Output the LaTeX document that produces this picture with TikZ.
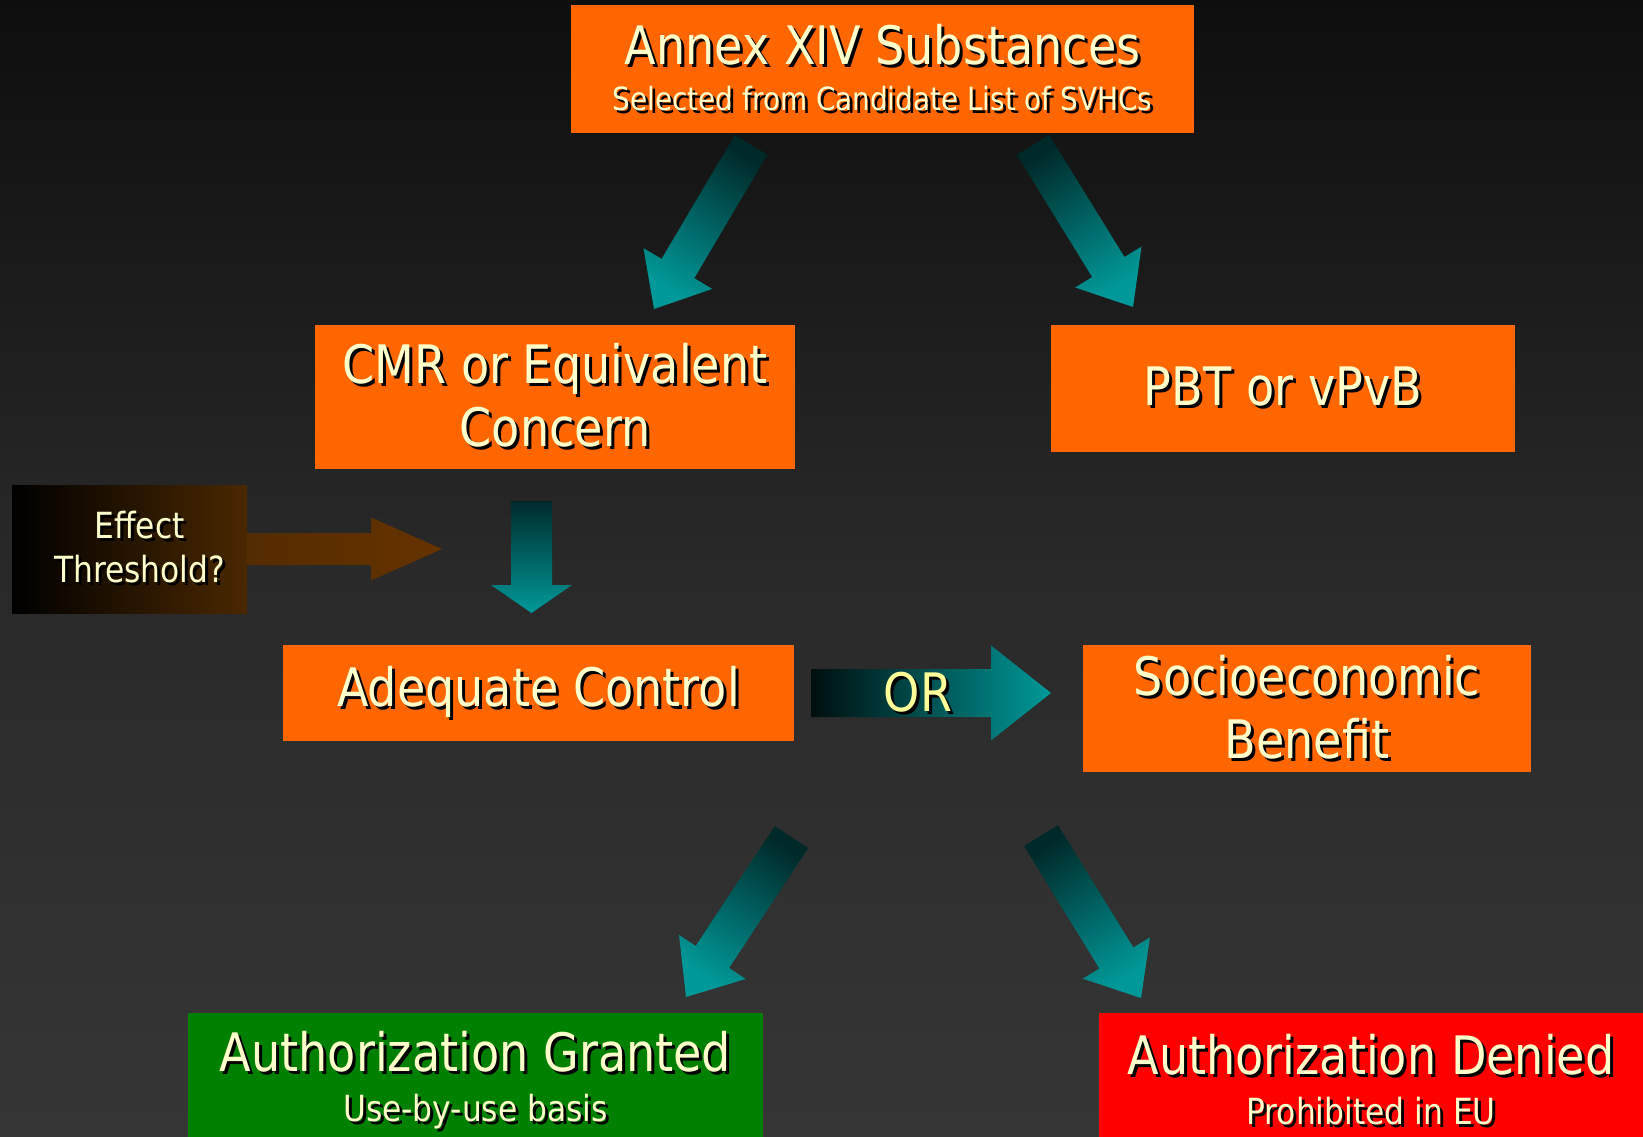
\documentclass[tikz,border=0pt]{standalone}
\usepackage{fontspec}
\setmainfont{DejaVu Sans}[FakeStretch=0.87]
\usetikzlibrary{calc}

\definecolor{bgtop}{HTML}{0E0E0E}
\definecolor{bgmid}{HTML}{292929}
\definecolor{bgbot}{HTML}{363636}
\definecolor{boxorange}{HTML}{FF6600}
\definecolor{okgreen}{HTML}{008000}
\definecolor{nored}{HTML}{FF0000}
\definecolor{cream}{HTML}{FFFFCC}
\definecolor{oryellow}{HTML}{FFFF99}
\definecolor{arrowteal}{HTML}{009999}
\definecolor{darkteal}{HTML}{002A2A}
\definecolor{orleft}{HTML}{000E0E}
\definecolor{effbrown}{HTML}{4A2800}
\definecolor{arrbrownl}{HTML}{552C00}
\definecolor{arrbrown}{HTML}{663300}

\newcommand\shtext[1]{\leavevmode\rlap{\kern3pt\raisebox{-3pt}{\color{black}#1}}#1}
\newcommand\bigfont{\fontsize{53}{63}\selectfont}
\newcommand\subfont{\fontsize{32}{40}\selectfont}
\newcommand\basefont{\fontsize{36}{44}\selectfont}
\newcommand\efffont{\fontsize{36}{44}\selectfont}

\newcommand\blockarrow[6][]{%
  \coordinate (neck) at ($(#3)!#6!(#2)$);
  \path[#1] ($(#2)!#4!90:(#3)$) -- ($(neck)!#4!90:(#3)$) -- ($(neck)!#5!90:(#3)$) -- (#3)
    -- ($(neck)!#5!-90:(#3)$) -- ($(neck)!#4!-90:(#3)$) -- ($(#2)!#4!-90:(#3)$) -- cycle;}

\begin{document}
\begin{tikzpicture}[x=1pt,y=-1pt,
  box/.style={fill=boxorange,text=cream,align=center,inner sep=0pt,font=\bigfont},
  tealarrow/.style={top color=darkteal,bottom color=arrowteal}]

\shade[top color=bgtop,bottom color=bgbot,middle color=bgmid] (0,0) rectangle (1643,1137);
\useasboundingbox (0,0) rectangle (1643,1137);

\node[box,minimum width=623pt,minimum height=128pt] (annex) at (882.5,69)
	{\shtext{Annex XIV Substances}\\[-17pt]{\subfont\shtext{Selected from Candidate List of SVHCs}}};
\node[box,minimum width=480pt,minimum height=144pt] (cmr) at (555,397)
	{\shtext{CMR or Equivalent}\\\shtext{Concern}};
\node[box,minimum width=464pt,minimum height=127pt] (pbt) at (1283,388.5) {\shtext{PBT or vPvB}};
\node[left color=black,right color=effbrown,text=cream,align=center,inner sep=0pt,font=\efffont,
	minimum width=235pt,minimum height=128pt] (effect) at (129.5,549)
	{\hspace*{20pt}\shtext{Effect}\\\hspace*{20pt}\shtext{Threshold?}};
\node[box,minimum width=511pt,minimum height=96pt] (adequate) at (538.5,693) {\shtext{Adequate Control}};
\node[box,minimum width=448pt,minimum height=127pt] (socio) at (1307,708.5)
	{\shtext{Socioeconomic}\\\shtext{Benefit}};
\node[box,fill=okgreen,minimum width=575pt,minimum height=137pt] (granted) at (475.5,1081.5)
	{\shtext{Authorization Granted}\\[-13pt]{\basefont\shtext{Use-by-use basis}}};
\node[box,fill=nored,minimum width=544pt,minimum height=137pt] (denied) at (1371,1081.5)
	{\shtext{Authorization Denied}\\[-13pt]{\basefont\shtext{Prohibited in EU}}};

\coordinate (s1) at (751,145);		\coordinate (e1) at (654,309);
\coordinate (s2) at (1033,145);	\coordinate (e2) at (1133,307);
\coordinate (s3) at (531.5,501);	\coordinate (e3) at (531.5,613);
\coordinate (s4) at (811,693);		\coordinate (e4) at (1051,693);
\coordinate (e5) at (442,549);
\coordinate (s6) at (791.5,837);	\coordinate (e6) at (686,997);
\coordinate (s7) at (1041,835.5);	\coordinate (e7) at (1141,998);

\blockarrow[tealarrow,shading angle=-31]{s1}{e1}{19pt}{40pt}{47pt}
\blockarrow[tealarrow,shading angle=32]{s2}{e2}{19pt}{39pt}{47pt}
\blockarrow[tealarrow]{s3}{e3}{20.5pt}{40.5pt}{28pt}
\blockarrow[left color=orleft,right color=arrowteal]{s4}{e4}{24pt}{47.5pt}{60pt}
\blockarrow[left color=arrbrownl,right color=arrbrown]{effect.east}{e5}{16pt}{31.5pt}{71pt}
\blockarrow[tealarrow,shading angle=-33]{s6}{e6}{20pt}{40pt}{48pt}
\blockarrow[tealarrow,shading angle=32]{s7}{e7}{20pt}{39.5pt}{47pt}

\node[text=oryellow,font=\bigfont,inner sep=0pt] (orlabel) at (918,694) {\shtext{OR}};

\end{tikzpicture}
\end{document}
